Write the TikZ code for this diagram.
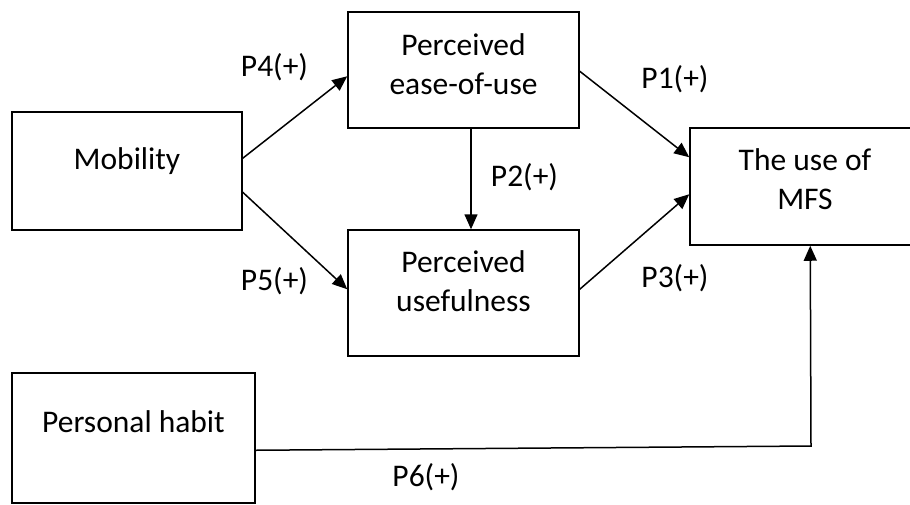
\documentclass[tikz,border=0pt]{standalone}
\usepackage{fontspec}
\setmainfont{Carlito}
\usetikzlibrary{arrows.meta,calc}
\begin{document}
\begin{tikzpicture}[x=1pt,y=-1pt,
  box/.style={draw,line width=1.5pt,rectangle,inner sep=0pt},
  txt/.style={font=\fontsize{31.5}{39}\selectfont,align=center,inner sep=0pt},
  lbl/.style={font=\fontsize{31.5}{39}\selectfont,inner sep=0pt},
  conn/.style={line width=1.5pt,-{Triangle[length=15pt,width=13pt]}}]
\useasboundingbox (0,0) rectangle (910,504);
% boxes
\node[box,minimum width=230pt,minimum height=118pt] (mob) at (127,171) {};
\node[box,minimum width=231pt,minimum height=116pt] (peou) at (463.5,70) {};
\node[box,minimum width=231pt,minimum height=126pt] (pu) at (463.5,293) {};
\node[box,minimum width=300pt,minimum height=117pt] (mfs) at (840,186.5) {};
\node[box,minimum width=243pt,minimum height=130pt] (ph) at (133.5,438) {};
% box texts
\node[txt] (mobT) at (127,161) {Mobility};
\node[txt] (peouT) at (463.5,64) {Perceived\\ease-of-use};
\node[txt] (puT) at (463.5,281) {Perceived\\usefulness};
\node[txt] (mfsT) at (805,179) {The use of\\MFS};
\node[txt] (phT) at (133.5,422) {Personal habit};
% connectors
\draw[conn] ($(mob.north east)+(0,47)$) -- ($(peou.north west)+(0,65)$);
\draw[conn] ($(mob.north east)+(0,81)$) -- ($(pu.north west)+(0,60)$);
\draw[conn] ($(peou.north east)+(0,60)$) -- ($(mfs.north west)+(0,30)$);
\draw[conn] ($(peou.south)+(7.5,0)$) -- ($(pu.north)+(7.5,0)$);
\draw[conn] ($(pu.north east)+(0,60)$) -- ($(mfs.north west)+(0,67)$);
\coordinate (c6) at (811,446);
\draw[conn] ($(ph.north east)+(0,78)$) -- (c6) -- ($(mfs.south west)+(121,0)$);
% labels
\node[lbl] (l4) at (274.5,67) {P4(+)};
\node[lbl] (l5) at (274.5,281) {P5(+)};
\node[lbl] (l1) at (675,79) {P1(+)};
\node[lbl] (l2) at (524.5,177) {P2(+)};
\node[lbl] (l3) at (675,278) {P3(+)};
\node[lbl] (l6) at (426,477) {P6(+)};
\end{tikzpicture}
\end{document}
